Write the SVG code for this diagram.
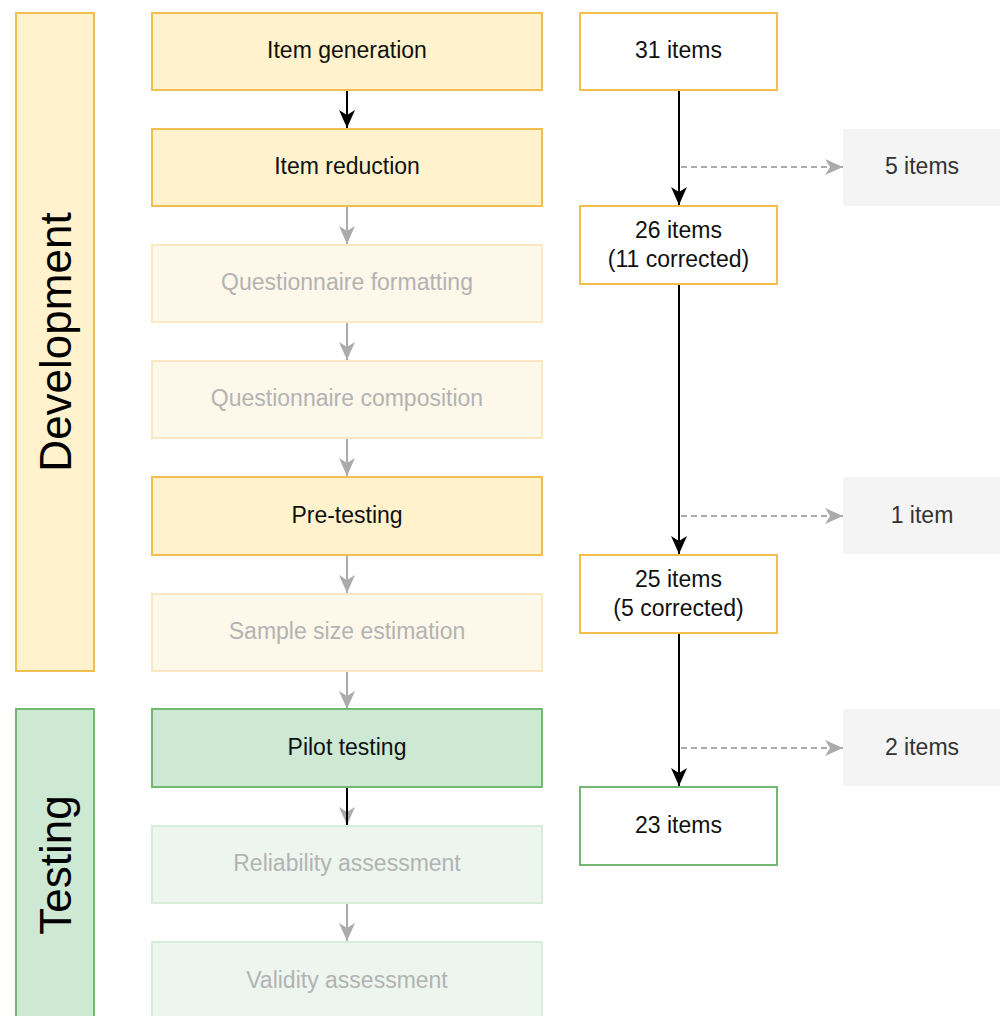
<svg xmlns="http://www.w3.org/2000/svg" width="1000" height="1016" viewBox="0 0 1000 1016">
<defs>
<style>
text{font-family:"Liberation Sans",Arial,sans-serif;font-size:23px;text-anchor:middle;dominant-baseline:central;fill:#111}
.lane{font-size:44px;fill:#000}
.faint{fill:#b3b3b3}
.y{fill:#fff2cc;stroke:#f0bf50;stroke-width:2}
.yf{fill:#fef8ea;stroke:#fbe8c3;stroke-width:2}
.g{fill:#cde8d3;stroke:#72b872;stroke-width:2}
.gf{fill:#edf5ef;stroke:#d8ecdb;stroke-width:2}
.wy{fill:#fff;stroke:#f0bf50;stroke-width:2}
.wg{fill:#fff;stroke:#72b872;stroke-width:2}
.gray{fill:#f4f4f4;stroke:none}
.gt{fill:#333}
.blk{stroke:#000;stroke-width:2;fill:none}
.gry{stroke:#ababab;stroke-width:2;fill:none}
.dash{stroke:#ababab;stroke-width:2;fill:none;stroke-dasharray:6 4}
</style>
<marker id="ab" viewBox="-19 -9 20 18" refX="0" refY="0" markerWidth="20" markerHeight="18" orient="auto" markerUnits="userSpaceOnUse"><path d="M0,0 L-18,-8 L-13,0 L-18,8 Z" fill="#000"/></marker>
<marker id="ag" viewBox="-19 -9 20 18" refX="0" refY="0" markerWidth="20" markerHeight="18" orient="auto" markerUnits="userSpaceOnUse"><path d="M0,0 L-18,-8 L-13,0 L-18,8 Z" fill="#ababab"/></marker>
</defs>
<g id="lane-development"><rect class="y" x="16" y="13" width="78" height="658"/><text class="lane" transform="rotate(-90 55 342)" x="55" y="342">Development</text></g>
<g id="lane-testing"><rect class="g" x="16" y="709" width="78" height="312"/><text class="lane" transform="rotate(-90 55 865)" x="55" y="865">Testing</text></g>

<g id="connectors">
<line class="blk" x1="347" y1="90" x2="347" y2="128" marker-end="url(#ab)"/>
<line class="gry" x1="347" y1="207" x2="347" y2="244" marker-end="url(#ag)"/>
<line class="gry" x1="347" y1="323" x2="347" y2="360" marker-end="url(#ag)"/>
<line class="gry" x1="347" y1="439" x2="347" y2="476" marker-end="url(#ag)"/>
<line class="gry" x1="347" y1="556" x2="347" y2="593" marker-end="url(#ag)"/>
<line class="gry" x1="347" y1="672" x2="347" y2="709" marker-end="url(#ag)"/>
<line class="gry" x1="347" y1="788" x2="347" y2="825" marker-end="url(#ag)"/>
<line class="blk" x1="347" y1="788" x2="347" y2="825"/>
<line class="gry" x1="347" y1="904" x2="347" y2="941" marker-end="url(#ag)"/>
<line class="blk" x1="679" y1="90" x2="679" y2="205" marker-end="url(#ab)"/>
<line class="blk" x1="679" y1="284" x2="679" y2="554" marker-end="url(#ab)"/>
<line class="blk" x1="679" y1="633" x2="679" y2="786" marker-end="url(#ab)"/>
<line class="dash" x1="681" y1="167" x2="843" y2="167" marker-end="url(#ag)"/>
<line class="dash" x1="681" y1="516" x2="843" y2="516" marker-end="url(#ag)"/>
<line class="dash" x1="681" y1="748" x2="843" y2="748" marker-end="url(#ag)"/>
</g>

<g id="item-generation"><rect class="y" x="152" y="13" width="390" height="77"/><text x="347" y="50">Item generation</text></g>
<g id="item-reduction"><rect class="y" x="152" y="129" width="390" height="77"/><text x="347" y="166">Item reduction</text></g>
<g id="questionnaire-formatting"><rect class="yf" x="152" y="245" width="390" height="77"/><text class="faint" x="347" y="282">Questionnaire formatting</text></g>
<g id="questionnaire-composition"><rect class="yf" x="152" y="361" width="390" height="77"/><text class="faint" x="347" y="398">Questionnaire composition</text></g>
<g id="pre-testing"><rect class="y" x="152" y="477" width="390" height="78"/><text x="347" y="515">Pre-testing</text></g>
<g id="sample-size-estimation"><rect class="yf" x="152" y="594" width="390" height="77"/><text class="faint" x="347" y="631">Sample size estimation</text></g>
<g id="pilot-testing"><rect class="g" x="152" y="709" width="390" height="78"/><text x="347" y="747">Pilot testing</text></g>
<g id="reliability-assessment"><rect class="gf" x="152" y="826" width="390" height="77"/><text class="faint" x="347" y="863">Reliability assessment</text></g>
<g id="validity-assessment"><rect class="gf" x="152" y="942" width="390" height="78"/><text class="faint" x="347" y="980">Validity assessment</text></g>

<g id="items-31"><rect class="wy" x="580" y="13" width="197" height="77"/><text x="678.5" y="50">31 items</text></g>
<g id="items-26"><rect class="wy" x="580" y="206" width="197" height="78"/><text x="678.5" y="230">26 items</text><text x="678.5" y="259">(11 corrected)</text></g>
<g id="items-25"><rect class="wy" x="580" y="555" width="197" height="78"/><text x="678.5" y="579">25 items</text><text x="678.5" y="608">(5 corrected)</text></g>
<g id="items-23"><rect class="wg" x="580" y="787" width="197" height="78"/><text x="678.5" y="825">23 items</text></g>

<g id="removed-5"><rect class="gray" x="843" y="129" width="160" height="77"/><text class="gt" x="922" y="166">5 items</text></g>
<g id="removed-1"><rect class="gray" x="843" y="477" width="160" height="77"/><text class="gt" x="922" y="515">1 item</text></g>
<g id="removed-2"><rect class="gray" x="843" y="709" width="160" height="77"/><text class="gt" x="922" y="747">2 items</text></g>
</svg>
